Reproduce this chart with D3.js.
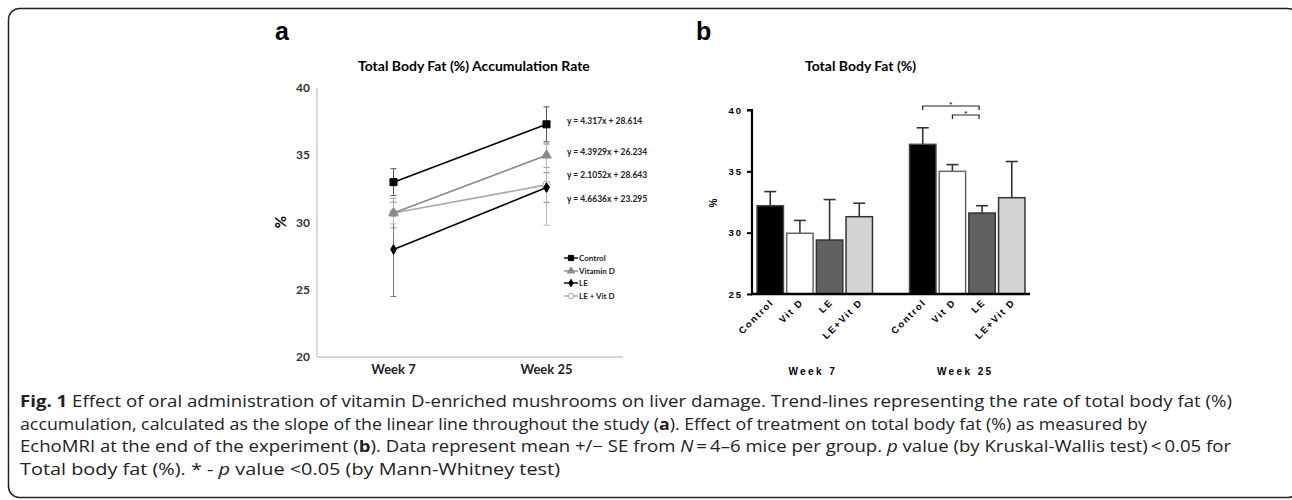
<!DOCTYPE html>
<html>
<head>
<meta charset="utf-8">
<script src="https://cdn.jsdelivr.net/npm/d3@7"></script>
<style>
body { margin: 0; background: #fff; }
</style>
</head>
<body>
<div id="fig"></div>
<script>
// ---- panel a : accumulation rate (line chart) ----
const weeks = ["Week 7", "Week 25"];
const seriesNames = ["Control", "Vitamin D", "LE", "LE + Vit D"];
const controlVals = [33.0, 37.3];
const vitDVals = [30.7, 35.0];
const leVals = [28.0, 32.6];
const leVitDVals = [30.7, 32.8];
const controlErr = [1.0, 1.3];
const vitDErr = [1.1, 0.9];
const leErr = [3.5, 1.1];
const leVitDErr = [0.8, 3.0];
const trendEqs = ["y = 4.317x + 28.614", "y = 4.3929x + 26.234", "y = 2.1052x + 28.643", "y = 4.6636x + 23.295"];
const aTicks = [20, 25, 30, 35, 40];

// ---- panel b : total body fat (bar chart) ----
const groups = ["Control", "Vit D", "LE", "LE+Vit D"];
const week7Means = [32.2, 29.95, 29.4, 31.3];
const week7Err = [1.15, 1.05, 3.3, 1.1];
const week25Means = [37.2, 35.0, 31.6, 32.85];
const week25Err = [1.35, 0.55, 0.6, 2.95];
const bTicks = [25, 30, 35, 40];

const captionLines = [
    [["b", "Fig. 1"], ["", " Effect of oral administration of vitamin D-enriched mushrooms on liver damage. Trend-lines representing the rate of total body fat (%)"]],
    [["", "accumulation, calculated as the slope of the linear line throughout the study ("], ["b", "a"], ["", "). Effect of treatment on total body fat (%) as measured by"]],
    [["", "EchoMRI at the end of the experiment ("], ["b", "b"], ["", "). Data represent mean +/\u2212 SE from "], ["i", "N"], ["", "\u2009=\u20094\u20136 mice per group. "], ["i", "p"], ["", " value (by Kruskal-Wallis test)\u2009<\u20090.05 for"]],
    [["", "Total body fat (%). * - "], ["i", "p"], ["", " value <0.05 (by Mann-Whitney test)"]]
];
const captionWidths = [1212, 1127, 1211, 540];

const W = 1292, H = 500;

var svg = d3.select("#fig")
    .append("svg")
    .attr("width", W)
    .attr("height", H);

svg.append("rect")
    .attr("x", 8.5).attr("y", 8.5)
    .attr("width", 1290).attr("height", 489)
    .attr("rx", 11)
    .attr("fill", "none")
    .attr("stroke", "#222")
    .attr("stroke-width", 1.5);

// ===================== panel a =====================
const fontA = "Lato, 'Open Sans', sans-serif";

svg.append("text")
    .attr("x", 275).attr("y", 40)
    .style("font-family", "'Liberation Sans', Arial, sans-serif")
    .style("font-weight", "bold").style("font-size", "25px")
    .text("a");

svg.append("text")
    .attr("x", 358).attr("y", 71)
    .style("font-family", fontA).style("font-weight", "bold").style("font-size", "14px")
    .text("Total Body Fat (%) Accumulation Rate");

const xA = d3.scalePoint().domain(weeks).range([317, 623]).padding(0.5);
const yA = d3.scaleLinear().domain([20, 40]).range([357, 88]);

const gA = svg.append("g");

gA.append("line")
    .attr("x1", 317).attr("x2", 317)
    .attr("y1", yA(40)).attr("y2", yA(20))
    .style("stroke", "#c8c8c8").style("stroke-width", 1.3);
gA.append("line")
    .attr("x1", 317).attr("x2", 623)
    .attr("y1", yA(20)).attr("y2", yA(20))
    .style("stroke", "#c8c8c8").style("stroke-width", 1.3);

gA.selectAll(".ytickA")
    .data(aTicks)
    .enter()
    .append("text")
    .attr("x", 310)
    .attr("y", d => yA(d) + 4)
    .attr("text-anchor", "end")
    .style("font-family", fontA).style("font-weight", "bold").style("font-size", "12px")
    .style("fill", "#333")
    .text(d => d);

gA.selectAll(".xtickA")
    .data(weeks)
    .enter()
    .append("text")
    .attr("x", d => xA(d))
    .attr("y", 374)
    .attr("text-anchor", "middle")
    .style("font-family", fontA).style("font-weight", "bold").style("font-size", "13px")
    .style("fill", "#222")
    .text(d => d);

gA.append("text")
    .attr("transform", "translate(286,222) rotate(-90)")
    .attr("text-anchor", "middle")
    .style("font-family", fontA).style("font-weight", "bold").style("font-size", "15px")
    .text("%");

const seriesA = [
    {name: seriesNames[0], vals: controlVals, err: controlErr, color: "#000", errColor: "#555", sym: d3.symbolSquare, size: 50, fill: "#000"},
    {name: seriesNames[1], vals: vitDVals, err: vitDErr, color: "#8a8a8a", errColor: "#9a9a9a", sym: d3.symbolTriangle, size: 40, fill: "#8a8a8a"},
    {name: seriesNames[2], vals: leVals, err: leErr, color: "#000", errColor: "#7a7a7a", sym: d3.symbolDiamond, size: 28, fill: "#000"},
    {name: seriesNames[3], vals: leVitDVals, err: leVitDErr, color: "#a8a8a8", errColor: "#b8b8b8", sym: d3.symbolCircle, size: 45, fill: "#fff"}
];

// error bars first (behind lines)
seriesA.forEach(s => {
    weeks.forEach((w, i) => {
        const x = xA(w);
        gA.append("line")
            .attr("x1", x).attr("x2", x)
            .attr("y1", yA(s.vals[i] + s.err[i])).attr("y2", yA(s.vals[i] - s.err[i]))
            .style("stroke", s.errColor).style("stroke-width", 1);
        [s.vals[i] + s.err[i], s.vals[i] - s.err[i]].forEach(v => {
            gA.append("line")
                .attr("x1", x - 3).attr("x2", x + 3)
                .attr("y1", yA(v)).attr("y2", yA(v))
                .style("stroke", s.errColor).style("stroke-width", 1);
        });
    });
});

const lineA = d3.line().x((d, i) => xA(weeks[i])).y(d => yA(d));

seriesA.slice().reverse().forEach(s => {
    gA.append("path")
        .datum(s.vals)
        .attr("d", lineA)
        .style("fill", "none")
        .style("stroke", s.color)
        .style("stroke-width", 1.6);
    gA.selectAll(null)
        .data(s.vals)
        .enter()
        .append("path")
        .attr("transform", (d, i) => `translate(${xA(weeks[i])},${yA(d)})`)
        .attr("d", d3.symbol().type(s.sym).size(s.size))
        .style("fill", s.fill)
        .style("stroke", s.color)
        .style("stroke-width", 1);
});

// trend line equations
const eqY = [121, 152, 175, 199];
gA.selectAll(".eq")
    .data(trendEqs)
    .enter()
    .append("text")
    .attr("x", 567)
    .attr("y", (d, i) => eqY[i] + 3)
    .style("font-family", fontA).style("font-weight", "bold").style("font-size", "8.5px")
    .style("fill", "#222")
    .text(d => d);

// legend
const legY = [258, 271, 283, 296];
seriesA.forEach((s, i) => {
    const lg = gA.append("g").attr("transform", `translate(564,${legY[i]})`);
    lg.append("line").attr("x1", 0).attr("x2", 14).style("stroke", s.color).style("stroke-width", 1.4);
    lg.append("path")
        .attr("transform", "translate(7,0)")
        .attr("d", d3.symbol().type(s.sym).size(s.size * 0.55))
        .style("fill", s.fill).style("stroke", s.color);
    lg.append("text")
        .attr("x", 15).attr("y", 3)
        .style("font-family", fontA).style("font-weight", "bold").style("font-size", "8px")
        .style("fill", "#222")
        .text(s.name);
});

// ===================== panel b =====================
const fontB = "'Liberation Sans', Arial, sans-serif";

svg.append("text")
    .attr("x", 696).attr("y", 40)
    .style("font-family", fontB)
    .style("font-weight", "bold").style("font-size", "25px")
    .text("b");

svg.append("text")
    .attr("x", 805).attr("y", 71)
    .style("font-family", fontA).style("font-weight", "bold").style("font-size", "14px")
    .text("Total Body Fat (%)");

const yB = d3.scaleLinear().domain([25, 40]).range([294, 110]);
const xOuter = d3.scaleBand().domain(weeks).range([752, 1030]).paddingInner(0.243).paddingOuter(0.033);
const xInner = d3.scaleBand().domain(groups).range([0, xOuter.bandwidth()]).paddingInner(0.11).paddingOuter(0);

const gB = svg.append("g");

const barFill = ["#000", "#fff", "#616161", "#d4d4d4"];
const barStroke = ["#444", "#666", "#333", "#333"];

const barData = [];
weeks.forEach((w, wi) => {
    const means = wi === 0 ? week7Means : week25Means;
    const errs = wi === 0 ? week7Err : week25Err;
    groups.forEach((g, gi) => {
        barData.push({week: w, group: g, gi: gi, mean: means[gi], err: errs[gi]});
    });
});

const barGroups = gB.selectAll(".bar")
    .data(barData)
    .enter()
    .append("g");

barGroups.append("line")
    .attr("x1", d => xOuter(d.week) + xInner(d.group) + xInner.bandwidth() / 2)
    .attr("x2", d => xOuter(d.week) + xInner(d.group) + xInner.bandwidth() / 2)
    .attr("y1", d => yB(d.mean))
    .attr("y2", d => yB(d.mean + d.err))
    .style("stroke", "#333").style("stroke-width", 1.6);
barGroups.append("line")
    .attr("x1", d => xOuter(d.week) + xInner(d.group) + xInner.bandwidth() / 2 - 6)
    .attr("x2", d => xOuter(d.week) + xInner(d.group) + xInner.bandwidth() / 2 + 6)
    .attr("y1", d => yB(d.mean + d.err))
    .attr("y2", d => yB(d.mean + d.err))
    .style("stroke", "#333").style("stroke-width", 1.6);

barGroups.append("rect")
    .attr("x", d => xOuter(d.week) + xInner(d.group))
    .attr("y", d => yB(d.mean))
    .attr("width", xInner.bandwidth())
    .attr("height", d => yB(25) - yB(d.mean))
    .style("fill", d => barFill[d.gi])
    .style("stroke", d => barStroke[d.gi])
    .style("stroke-width", 1.5);

// axes
gB.append("g")
    .attr("transform", "translate(752,0)")
    .call(d3.axisLeft(yB).tickValues(bTicks).tickSize(5).tickFormat(d3.format("d")))
    .call(g => g.select(".domain").attr("d", `M-5,${yB(40)}H0V${yB(25)}`).style("stroke", "#000").style("stroke-width", 2.2))
    .call(g => g.selectAll(".tick line").style("stroke", "#000").style("stroke-width", 2))
    .call(g => g.selectAll(".tick text")
        .attr("x", -9)
        .style("font-family", fontB).style("font-weight", "bold").style("font-size", "9.5px")
        .style("letter-spacing", "2px").style("fill", "#000"));

gB.append("line")
    .attr("x1", 751).attr("x2", 1030)
    .attr("y1", yB(25)).attr("y2", yB(25))
    .style("stroke", "#000").style("stroke-width", 2.6);

// rotated category labels
barGroups.append("text")
    .attr("transform", d => `translate(${xOuter(d.week) + xInner(d.group) + xInner.bandwidth() / 2 + 4},${303}) rotate(-45)`)
    .attr("text-anchor", "end")
    .style("font-family", fontB).style("font-weight", "bold").style("font-size", "9.5px")
    .style("letter-spacing", "1.6px")
    .text(d => d.group);

gB.selectAll(".weekLab")
    .data(weeks)
    .enter()
    .append("text")
    .attr("x", d => xOuter(d) + xOuter.bandwidth() / 2 - 2)
    .attr("y", 375)
    .attr("text-anchor", "middle")
    .style("font-family", fontB).style("font-weight", "bold").style("font-size", "10px")
    .style("letter-spacing", "2.4px")
    .text(d => d);

gB.append("text")
    .attr("transform", "translate(717,203) rotate(-90)")
    .attr("text-anchor", "middle")
    .style("font-family", fontB).style("font-weight", "bold").style("font-size", "10px")
    .text("%");

// significance brackets (week 25)
const cx = (w, g) => xOuter(w) + xInner(g) + xInner.bandwidth() / 2;
const brackets = [
    {from: "Control", to: "LE", y: 106},
    {from: "Vit D", to: "LE", y: 115}
];
brackets.forEach(b => {
    const x1 = cx("Week 25", b.from), x2 = cx("Week 25", b.to) - 3;
    gB.append("path")
        .attr("d", `M${x1},${b.y + 4}V${b.y}H${x2}V${b.y + 4}`)
        .style("fill", "none").style("stroke", "#222").style("stroke-width", 1.2);
    gB.append("text")
        .attr("x", (x1 + x2) / 2).attr("y", b.y + 1)
        .attr("text-anchor", "middle")
        .style("font-family", fontB).style("font-size", "8px")
        .text("*");
});

// ===================== caption =====================
const capY = [407, 430, 452, 475];
captionLines.forEach((parts, li) => {
    const t = svg.append("text")
        .attr("x", 20).attr("y", capY[li])
        .attr("textLength", captionWidths[li])
        .attr("lengthAdjust", "spacingAndGlyphs")
        .style("font-family", "'Open Sans', sans-serif")
        .style("font-size", "15.5px")
        .style("fill", "#222");
    parts.forEach(p => {
        t.append("tspan")
            .style("font-weight", p[0] === "b" ? "bold" : "normal")
            .style("font-style", p[0] === "i" ? "italic" : "normal")
            .text(p[1]);
    });
});
</script>
</body>
</html>
